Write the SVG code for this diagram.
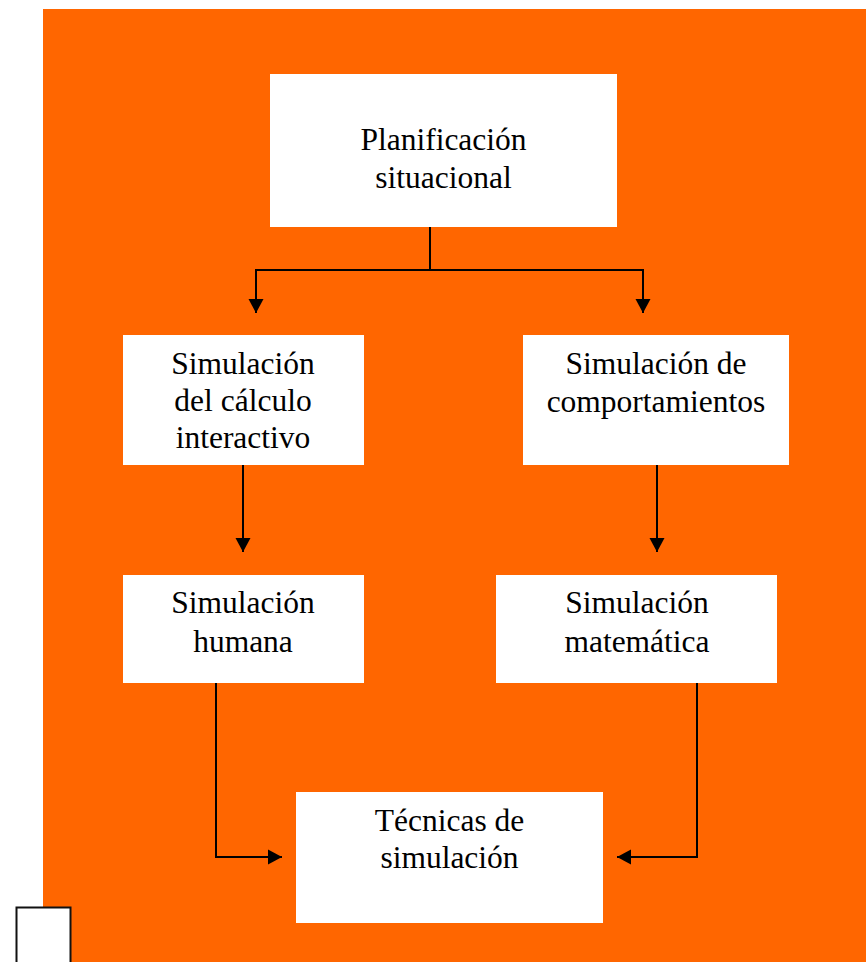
<svg xmlns="http://www.w3.org/2000/svg" width="866" height="962" viewBox="0 0 866 962">
<style>
.bg{fill:#ff6600}
.box{fill:#ffffff}
.t{font-family:"Liberation Serif","Times New Roman",serif;font-size:31.5px;fill:#000;text-anchor:middle}
.c{fill:none;stroke:#000;stroke-width:2}
</style>
<defs>
<marker id="ah" markerUnits="userSpaceOnUse" markerWidth="16" markerHeight="16" viewBox="0 0 14 16" refX="14" refY="8" orient="auto">
<path d="M0,0.5 L14,8 L0,15.5 Z" fill="#000"/>
</marker>
</defs>
<rect class="bg" x="43" y="9" width="823" height="953"/>
<g id="n1"><rect class="box" x="270" y="74" width="347" height="153"/><text class="t" x="443.5" y="150">Planificación</text><text class="t" x="443.5" y="188">situacional</text></g>
<g id="n2"><rect class="box" x="123" y="335" width="241" height="130"/><text class="t" x="243" y="374">Simulación</text><text class="t" x="243" y="411">del cálculo</text><text class="t" x="243" y="448">interactivo</text></g>
<g id="n3"><rect class="box" x="523" y="335" width="266" height="130"/><text class="t" x="656" y="374">Simulación de</text><text class="t" x="656" y="412">comportamientos</text></g>
<g id="n4"><rect class="box" x="123" y="575" width="241" height="108"/><text class="t" x="243" y="613">Simulación</text><text class="t" x="243" y="652">humana</text></g>
<g id="n5"><rect class="box" x="496" y="575" width="281" height="108"/><text class="t" x="637" y="613">Simulación</text><text class="t" x="637" y="652">matemática</text></g>
<g id="n6"><rect class="box" x="296" y="792" width="307" height="131"/><text class="t" x="449.5" y="831">Técnicas de</text><text class="t" x="449.5" y="868">simulación</text></g>
<g id="n7"><rect x="16.5" y="907.5" width="54" height="60" fill="#fff" stroke="#111" stroke-width="2"/></g>
<g id="connectors">
<path class="c" d="M430,227 V270"/>
<path class="c" d="M430,270 H256 V313" marker-end="url(#ah)"/>
<path class="c" d="M430,270 H643 V313" marker-end="url(#ah)"/>
<path class="c" d="M243,465 V552" marker-end="url(#ah)"/>
<path class="c" d="M657,465 V552" marker-end="url(#ah)"/>
<path class="c" d="M216,683 V857 H282" marker-end="url(#ah)"/>
<path class="c" d="M697,683 V857 H617" marker-end="url(#ah)"/>
</g>
</svg>
